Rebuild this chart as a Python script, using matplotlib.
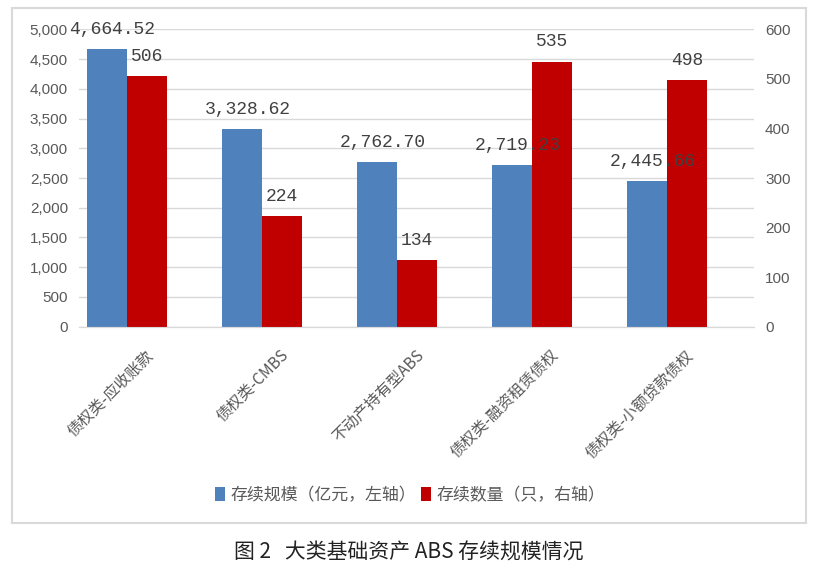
import matplotlib
matplotlib.use("Agg")
import matplotlib.pyplot as plt
import matplotlib.transforms as mtransforms
from matplotlib.patches import Rectangle, Patch
import numpy as np

plt.rcParams['font.family'] = ['Noto Sans CJK SC', 'DejaVu Sans']

categories = ["债权类-应收账款", "债权类-CMBS", "不动产持有型ABS", "债权类-融资租赁债权", "债权类-小额贷款债权"]
scale_values = [4664.52, 3328.62, 2762.70, 2719.23, 2445.66]   # 亿元, left axis
count_values = [506, 224, 134, 535, 498]                        # 只, right axis
scale_labels = ["4,664.52", "3,328.62", "2,762.70", "2,719.23", "2,445.66"]
left_ticks = [0, 500, 1000, 1500, 2000, 2500, 3000, 3500, 4000, 4500, 5000]
right_ticks = [0, 100, 200, 300, 400, 500, 600]
legend_labels = ["存续规模（亿元，左轴）", "存续数量（只，右轴）"]
caption = "图 2   大类基础资产 ABS 存续规模情况"

BLUE = "#4F81BD"
RED = "#C00000"
GRID = "#D9D9D9"
TICKC = "#595959"
LABELC = "#404040"

fig = plt.figure(figsize=(8.17, 5.75), dpi=100)
fig.patches.append(Rectangle((12/817, 1-523/575), 794/817, 515/575, transform=fig.transFigure,
                             fill=False, edgecolor=GRID, linewidth=1.5))

ax = fig.add_axes([79/817, 1-326.7/575, 675/817, (326.7-29.3)/575])
ax2 = ax.twinx()

x = np.arange(len(categories))
w = 0.296
b1 = ax.bar(x - w/2, scale_values, width=w, color=BLUE, zorder=2)
b2 = ax2.bar(x + w/2, count_values, width=w, color=RED, zorder=2)

ax.set_ylim(0, 5000)
ax2.set_ylim(0, 600)
ax.set_xlim(-0.353, 4.643)
ax.set_yticks(left_ticks)
ax.set_yticklabels([f"{v:,}" for v in left_ticks])
ax2.set_yticks(right_ticks)
ax.yaxis.grid(True, color=GRID, linewidth=1, zorder=0)
ax.set_axisbelow(True)

for a in (ax, ax2):
    for s in ("top", "left", "right"):
        a.spines[s].set_visible(False)
    a.spines["bottom"].set_color(GRID)
    a.tick_params(axis='both', length=0, colors=TICKC)
ax.tick_params(axis='y', labelsize=11, pad=8)
ax2.tick_params(axis='y', labelsize=11, pad=8)
for lab in ax.get_yticklabels() + ax2.get_yticklabels():
    lab.set_family(['Liberation Sans', 'DejaVu Sans'])

ax.set_xticks(x)
ax.set_xticklabels(categories, rotation=45, ha='right', va='center', rotation_mode='anchor',
                   fontsize=11.2, color=TICKC)
ax.tick_params(axis='x', pad=0)
off = mtransforms.ScaledTranslation(24/100, -26/100, fig.dpi_scale_trans)
for lab in ax.get_xticklabels():
    lab.set_transform(lab.get_transform() + off)

mono = ['Liberation Mono', 'DejaVu Sans Mono']
for rect, lab in zip(b1, scale_labels):
    ax2.annotate(lab, (rect.get_x() + rect.get_width()/2, rect.get_height()), xycoords=ax.transData,
                 xytext=(4, 8), textcoords='offset points', ha='center', va='bottom',
                 fontsize=13, color=LABELC, family=mono, zorder=5)
for rect, v in zip(b2, count_values):
    ax2.annotate(str(v), (rect.get_x() + rect.get_width()/2, rect.get_height()),
                 xytext=(0, 8), textcoords='offset points', ha='center', va='bottom',
                 fontsize=13, color=LABELC, family=mono, zorder=5)

handles = [Patch(facecolor=BLUE), Patch(facecolor=RED)]
fig.legend(handles, legend_labels, loc='center', bbox_to_anchor=(0.502, 1-495/575), ncol=2,
           frameon=False, fontsize=12.2, handlelength=0.6, handleheight=0.9, handletextpad=0.3,
           columnspacing=0.3, labelcolor=TICKC)

fig.text(0.5, 1-553/575, caption, ha='center', va='center', fontsize=15, color='#222222')

fig.savefig("out.png", dpi=100)
